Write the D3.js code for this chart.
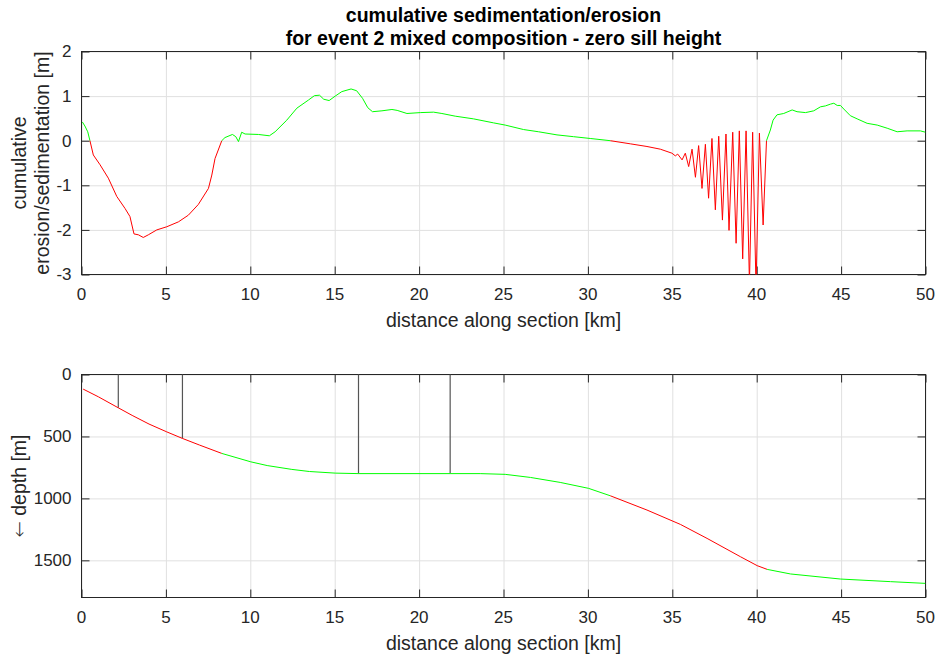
<!DOCTYPE html>
<html lang="en">
<head>
    <meta charset="UTF-8">
    <title>cumulative sedimentation/erosion</title>
    <script src="https://d3js.org/d3.v7.min.js"></script>
    <style>
        body {
            margin: 0;
            background-color: white;
            font-family: "Liberation Sans", Arial, Helvetica, sans-serif;
        }
        .grid line { stroke: #e0e0e0; stroke-width: 1; }
        .grid .domain { display: none; }
        .tick-label { font-size: 17px; fill: #262626; }
        .axis-label { font-size: 19.5px; fill: #262626; }
    </style>
</head>
<body>
    <div id="chart"></div>

    <script>
        // x ticks shared by both panels
        const xTicks = [0, 5, 10, 15, 20, 25, 30, 35, 40, 45, 50];

        // top panel: cumulative erosion/sedimentation [m]
        const sedX = [0.05, 0.2, 0.37, 0.5, 0.7, 1.1, 1.59, 2.09, 2.58, 2.87, 3.11, 3.37, 3.66, 3.96, 4.46, 5.05, 5.74, 6.33, 6.92, 7.52,
            7.72, 7.91, 8.31, 8.5, 8.94, 9.14, 9.3, 9.49, 9.69, 10.48, 11.13, 11.47, 12.16, 12.76, 13.44, 13.8, 14.1, 14.35, 14.67, 15.03,
            15.42, 15.97, 16.3, 16.65, 16.96, 17.24, 17.8, 18.39, 18.7, 19.28, 20.07, 20.86, 21.35, 22.14, 23.22, 24.41, 25.1, 26.19, 27.08, 28.17,
            29.15, 30.14, 31.33, 32.51, 33.5, 34.29, 34.98, 35.18, 35.32, 35.58, 35.77, 35.97, 36.17, 36.37, 36.56, 36.76, 36.96, 37.15, 37.35, 37.55,
            37.75, 37.97, 38.18, 38.36, 38.58, 38.78, 38.97, 39.17, 39.37, 39.57, 39.76, 39.96, 40.16, 40.38, 40.58, 40.81, 40.97, 41.2, 41.6, 42.1,
            42.39, 42.89, 43.38, 43.78, 44.07, 44.37, 44.57, 44.77, 44.96, 45.16, 45.55, 45.95, 46.54, 47.14, 47.73, 48.32, 48.91, 49.7, 50];
        const sedY = [0.42, 0.33, 0.2, 0.0, -0.32, -0.54, -0.84, -1.25, -1.52, -1.70, -2.09, -2.11, -2.17, -2.11, -2.0, -1.93, -1.82, -1.67, -1.43, -1.07,
            -0.77, -0.4, 0.0, 0.07, 0.14, 0.09, -0.02, 0.19, 0.15, 0.14, 0.11, 0.2, 0.46, 0.73, 0.91, 1.01, 1.02, 0.93, 0.9, 1.0,
            1.1, 1.16, 1.12, 0.95, 0.74, 0.65, 0.67, 0.7, 0.68, 0.61, 0.63, 0.64, 0.61, 0.55, 0.49, 0.40, 0.35, 0.25, 0.2, 0.13,
            0.09, 0.05, 0.0, -0.07, -0.13, -0.19, -0.28, -0.34, -0.3, -0.43, -0.28, -0.58, -0.19, -0.82, -0.11, -1.07, -0.08, -1.29, 0.05, -1.55,
            0.1, -1.78, 0.15, -2.01, 0.19, -2.3, 0.22, -2.65, 0.22, -3.2, 0.19, -3.3, 0.17, -1.89, 0.0, 0.24, 0.46, 0.58, 0.61, 0.69,
            0.65, 0.63, 0.67, 0.76, 0.78, 0.82, 0.84, 0.79, 0.79, 0.71, 0.56, 0.49, 0.39, 0.35, 0.28, 0.2, 0.22, 0.22, 0.19];
        const sedTicks = [-3, -2, -1, 0, 1, 2];

        // bottom panel: bed depth [m]
        const depthX = [0.1, 1, 2.18, 3, 4, 5.05, 5.98, 7, 8.31, 10.03, 11, 12.46, 13.5, 15.03, 16.41, 21.84, 23.62, 25.1, 26.6, 28.36,
            30.04, 31.33, 33.5, 35.48, 37.06, 39.04, 40.03, 40.62, 42.0, 44.96, 47.93, 50];
        const depthY = [118, 180, 269, 330, 400, 463, 516, 570, 637, 705, 735, 766, 783, 796, 800, 800, 800, 806, 831, 871,
            919, 979, 1094, 1210, 1323, 1471, 1543, 1573, 1610, 1651, 1672, 1686];
        const depthTicks = [0, 500, 1000, 1500];

        // sections marked with vertical lines [km, depth m]
        const markX = [2.18, 5.98, 16.41, 21.84];
        const markDepth = [269, 516, 800, 800];

        // ranges [km] where the event eroded (drawn red)
        const erosionZones = [[0.5, 8.31], [31.33, 40.58]];

        const width = 939, height = 655;
        const left = 81.5, right = 925.5;

        const svg = d3.select("#chart").append("svg")
            .attr("width", width)
            .attr("height", height);

        const x = d3.scaleLinear().domain([0, 50]).range([left, right]);

        function isErosion(km) {
            return erosionZones.some(z => km > z[0] && km < z[1]);
        }

        // split polyline into runs coloured by zone
        function colouredRuns(xs, ys) {
            const runs = [];
            let cur = null;
            for (let i = 0; i < xs.length - 1; i++) {
                const red = isErosion((xs[i] + xs[i + 1]) / 2);
                if (!cur || cur.red !== red) {
                    cur = { red, pts: [[xs[i], ys[i]]] };
                    runs.push(cur);
                }
                cur.pts.push([xs[i + 1], ys[i + 1]]);
            }
            return runs;
        }

        function drawPanel(top, bottom, y, yTicks, id) {
            const g = svg.append("g");

            g.append("defs").append("clipPath").attr("id", id)
                .append("rect")
                .attr("x", left).attr("y", top)
                .attr("width", right - left).attr("height", bottom - top);

            // grid
            g.append("g").attr("class", "grid")
                .attr("transform", `translate(0,${bottom})`)
                .call(d3.axisBottom(x).tickValues(xTicks).tickSize(-(bottom - top)).tickFormat(""));
            g.append("g").attr("class", "grid")
                .attr("transform", `translate(${left},0)`)
                .call(d3.axisLeft(y).tickValues(yTicks).tickSize(-(right - left)).tickFormat(""));

            // inward ticks on all four sides
            const tk = 8;
            const axes = [
                [d3.axisBottom(x).tickValues(xTicks), `translate(0,${bottom})`],
                [d3.axisTop(x).tickValues(xTicks), `translate(0,${top})`],
                [d3.axisLeft(y).tickValues(yTicks), `translate(${left},0)`],
                [d3.axisRight(y).tickValues(yTicks), `translate(${right},0)`]
            ];
            axes.forEach(([ax, tr]) => {
                const a = g.append("g").attr("transform", tr)
                    .call(ax.tickSize(-tk).tickSizeOuter(0).tickFormat(""));
                a.selectAll("line").attr("stroke", "#262626");
                a.select(".domain").remove();
            });

            // tick labels
            g.selectAll(null).data(xTicks).enter().append("text")
                .attr("class", "tick-label")
                .attr("x", d => x(d))
                .attr("y", bottom + 13)
                .attr("dy", "0.71em")
                .attr("text-anchor", "middle")
                .text(d => d);
            g.selectAll(null).data(yTicks).enter().append("text")
                .attr("class", "tick-label")
                .attr("x", left - 10)
                .attr("y", d => y(d))
                .attr("dy", "0.35em")
                .attr("text-anchor", "end")
                .text(d => d);

            // box
            g.append("rect")
                .attr("x", left).attr("y", top)
                .attr("width", right - left).attr("height", bottom - top)
                .attr("fill", "none")
                .attr("stroke", "#262626")
                .attr("stroke-width", 1);

            // x label
            g.append("text")
                .attr("class", "axis-label")
                .attr("x", (left + right) / 2)
                .attr("y", bottom + 52)
                .attr("text-anchor", "middle")
                .text("distance along section [km]");

            return g;
        }

        function drawRuns(g, xs, ys, y, id) {
            const line = d3.line().x(d => x(d[0])).y(d => y(d[1]));
            g.append("g").attr("clip-path", `url(#${id})`)
                .selectAll("path")
                .data(colouredRuns(xs, ys))
                .enter().append("path")
                .attr("d", d => line(d.pts))
                .attr("fill", "none")
                .attr("stroke", d => d.red ? "#ff0000" : "#00ff00")
                .attr("stroke-width", 1);
        }

        // ---- top panel ----
        const yTop = d3.scaleLinear().domain([-3, 2]).range([274.5, 51.5]);
        const gTop = drawPanel(51.5, 274.5, yTop, sedTicks, "clipTop");
        drawRuns(gTop, sedX, sedY, yTop, "clipTop");

        const cy = (51.5 + 274.5) / 2;
        gTop.append("text")
            .attr("class", "axis-label")
            .attr("transform", `translate(26,${cy}) rotate(-90)`)
            .attr("text-anchor", "middle")
            .text("cumulative");
        gTop.append("text")
            .attr("class", "axis-label")
            .attr("transform", `translate(49,${cy}) rotate(-90)`)
            .attr("text-anchor", "middle")
            .text("erosion/sedimentation [m]");

        // ---- bottom panel ----
        const yBot = d3.scaleLinear().domain([0, 1800]).range([374.5, 597.5]);
        const gBot = drawPanel(374.5, 597.5, yBot, depthTicks, "clipBot");

        gBot.selectAll(".mark")
            .data(markX)
            .enter().append("line")
            .attr("class", "mark")
            .attr("x1", d => x(d)).attr("x2", d => x(d))
            .attr("y1", yBot(0))
            .attr("y2", (d, i) => yBot(markDepth[i]))
            .attr("stroke", "#555")
            .attr("stroke-width", 1.2);

        drawRuns(gBot, depthX, depthY, yBot, "clipBot");

        const depthLabel = gBot.append("text")
            .attr("class", "axis-label")
            .attr("transform", `translate(26,${(374.5 + 597.5) / 2}) rotate(-90)`)
            .attr("text-anchor", "middle");
        depthLabel.append("tspan")
            .style("font-family", "'DejaVu Sans'")
            .style("font-weight", "200")
            .attr("fill", "#262626")
            .text("\u2190");
        depthLabel.append("tspan").text(" depth [m]");

        // ---- title ----
        const title = svg.append("text")
            .attr("x", (left + right) / 2)
            .attr("text-anchor", "middle")
            .style("font-size", "19.5px")
            .style("font-weight", "bold")
            .attr("fill", "black");
        title.append("tspan").attr("x", (left + right) / 2).attr("y", 22).text("cumulative sedimentation/erosion");
        title.append("tspan").attr("x", (left + right) / 2).attr("y", 45).text("for event 2 mixed composition - zero sill height");
    </script>
</body>
</html>
